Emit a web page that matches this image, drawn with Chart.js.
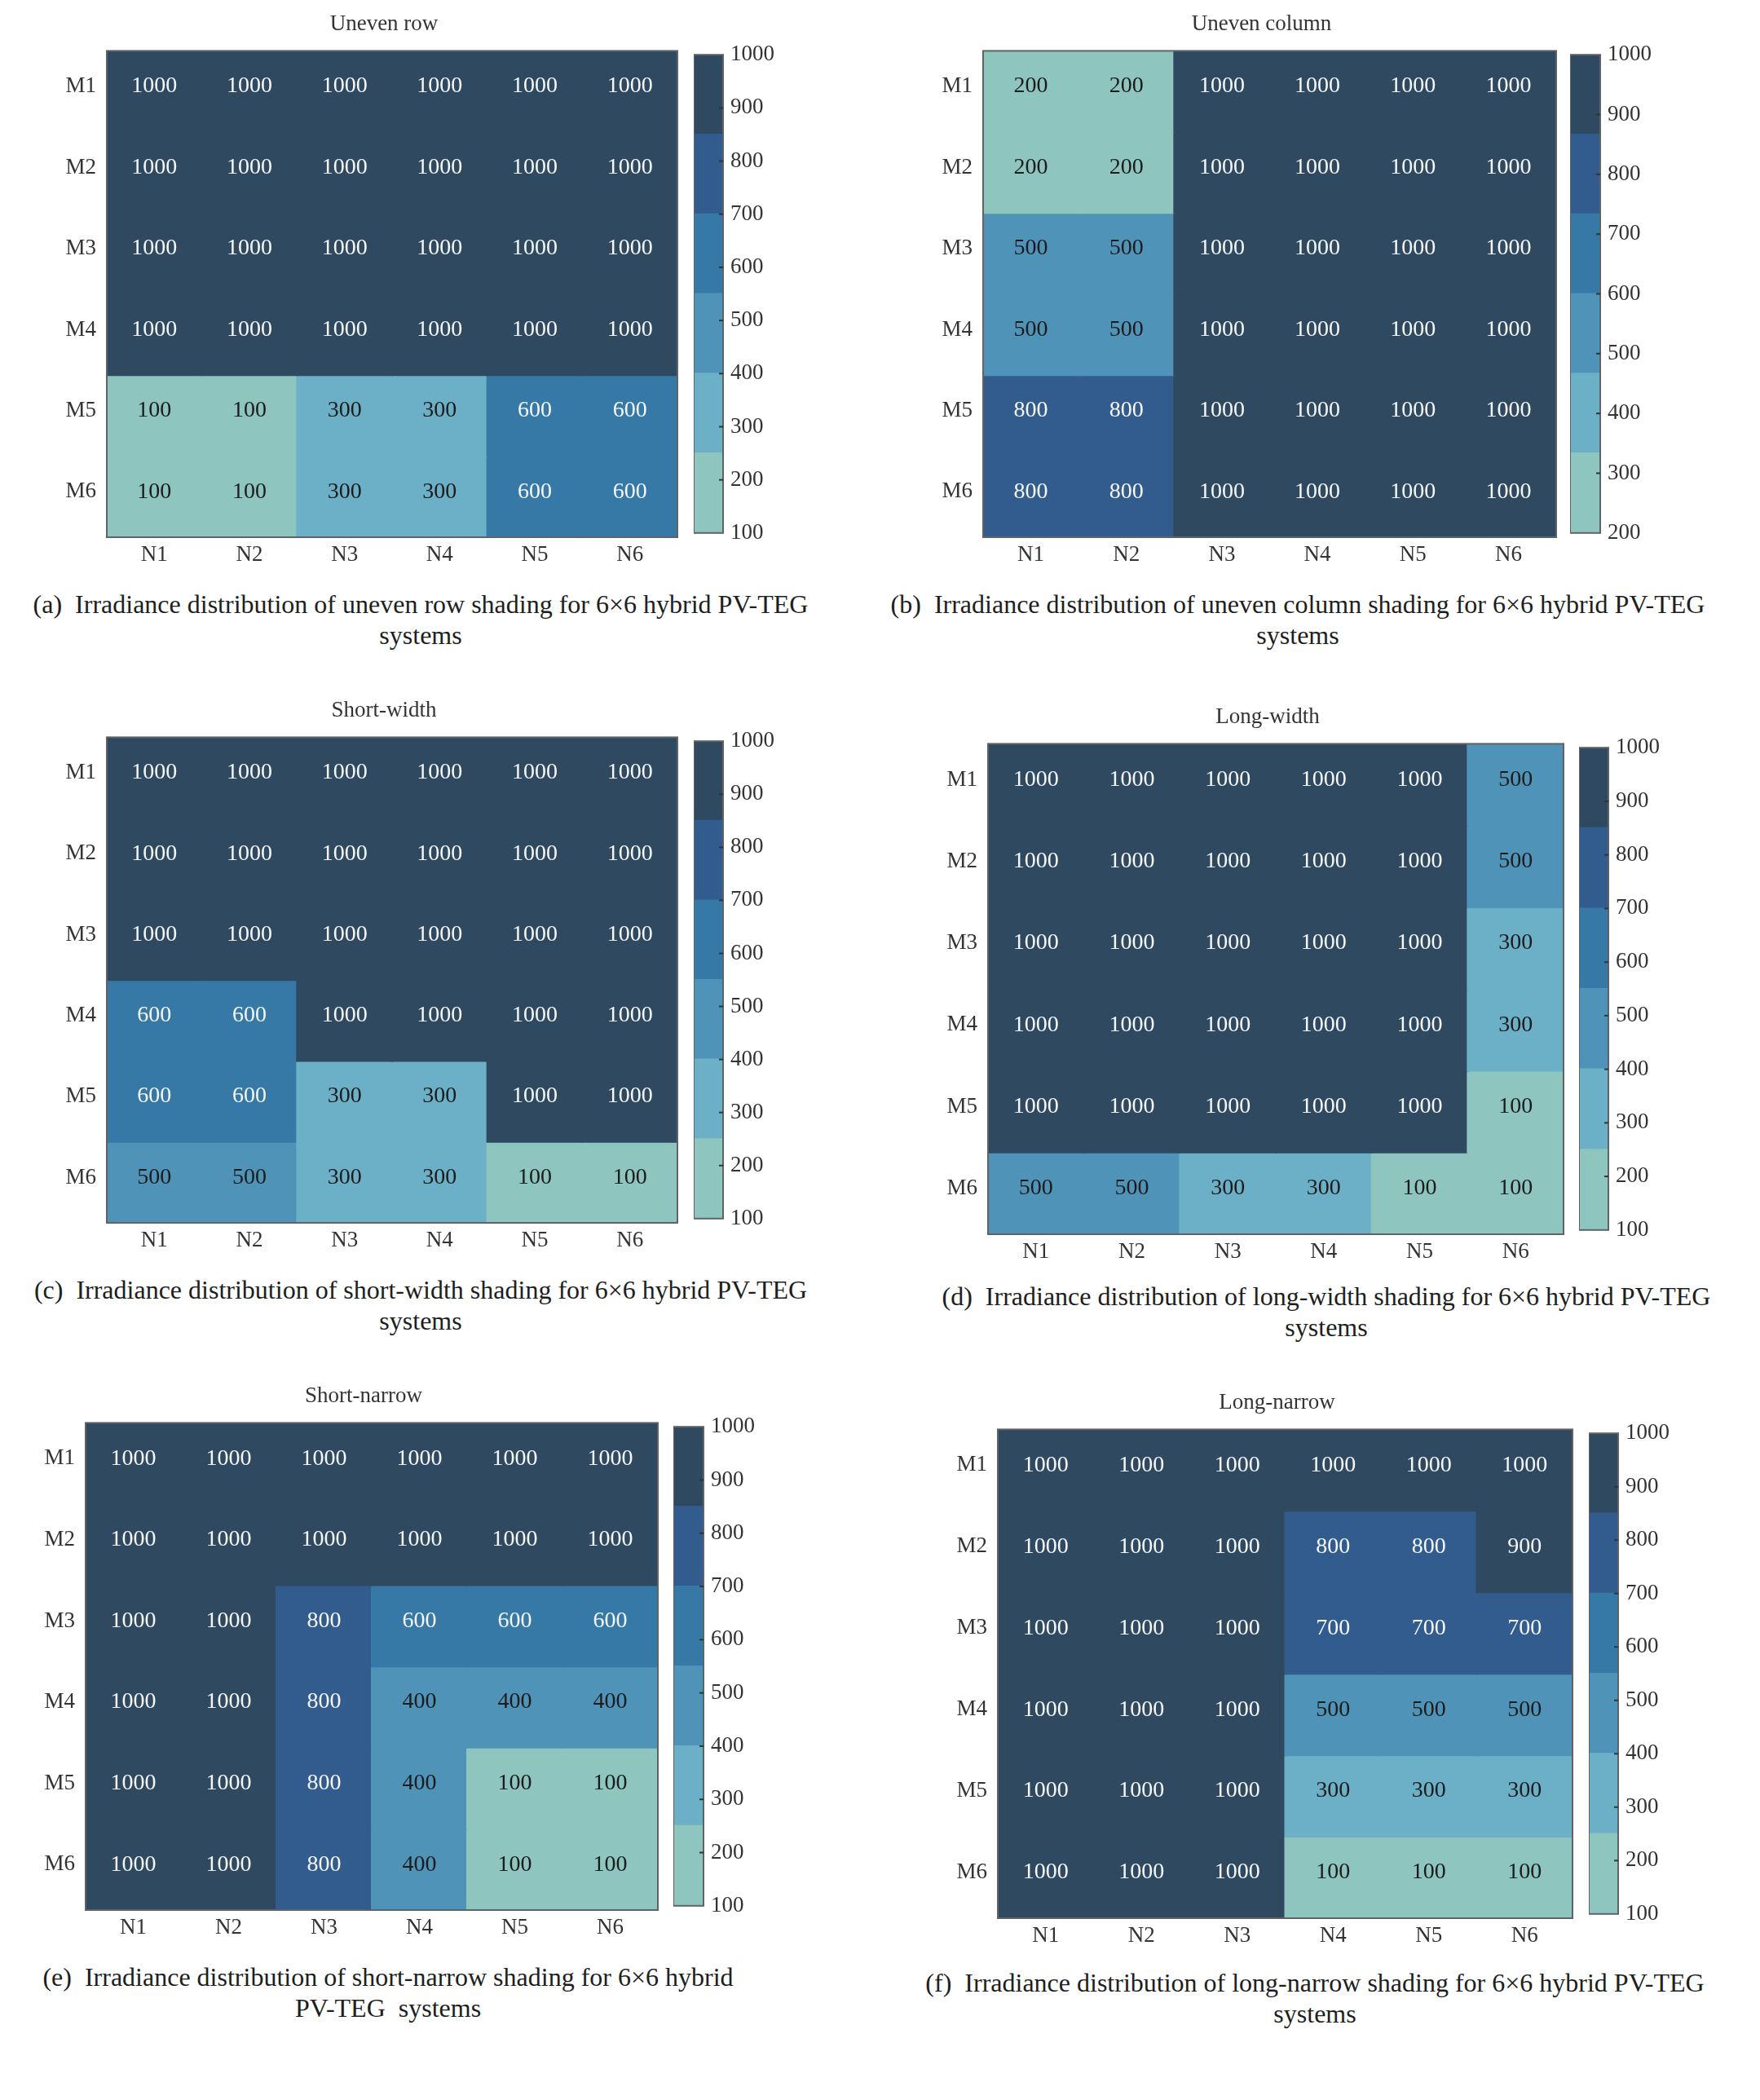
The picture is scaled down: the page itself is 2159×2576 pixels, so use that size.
<!DOCTYPE html>
<html lang="en">
<head>
  <meta charset="UTF-8">
  <title>Irradiance distribution for 6x6 hybrid PV-TEG systems</title>
  <script src="https://cdn.jsdelivr.net/npm/chart.js"></script>
  <style>
    body { margin: 0; background: #fff; width: 2159px; height: 2576px; position: relative; overflow: hidden;
           font-family: "Liberation Serif", "Times New Roman", serif; }
    .box { position: absolute; }
    .cap { position: absolute; width: 1200px; text-align: center; font-size: 32px; line-height: 38px; color: #1e1e1e; white-space: pre; }
  </style>
</head>
<body>
  <div id="page"></div>

  <script>
    // categories
    const cols = ['N1', 'N2', 'N3', 'N4', 'N5', 'N6'];
    const rows = ['M1', 'M2', 'M3', 'M4', 'M5', 'M6'];

    // irradiance (W/m2), one row per module line M1..M6
    const unevenRow = [
      [1000, 1000, 1000, 1000, 1000, 1000],
      [1000, 1000, 1000, 1000, 1000, 1000],
      [1000, 1000, 1000, 1000, 1000, 1000],
      [1000, 1000, 1000, 1000, 1000, 1000],
      [100, 100, 300, 300, 600, 600],
      [100, 100, 300, 300, 600, 600]
    ];
    const unevenColumn = [
      [200, 200, 1000, 1000, 1000, 1000],
      [200, 200, 1000, 1000, 1000, 1000],
      [500, 500, 1000, 1000, 1000, 1000],
      [500, 500, 1000, 1000, 1000, 1000],
      [800, 800, 1000, 1000, 1000, 1000],
      [800, 800, 1000, 1000, 1000, 1000]
    ];
    const shortWidth = [
      [1000, 1000, 1000, 1000, 1000, 1000],
      [1000, 1000, 1000, 1000, 1000, 1000],
      [1000, 1000, 1000, 1000, 1000, 1000],
      [600, 600, 1000, 1000, 1000, 1000],
      [600, 600, 300, 300, 1000, 1000],
      [500, 500, 300, 300, 100, 100]
    ];
    const longWidth = [
      [1000, 1000, 1000, 1000, 1000, 500],
      [1000, 1000, 1000, 1000, 1000, 500],
      [1000, 1000, 1000, 1000, 1000, 300],
      [1000, 1000, 1000, 1000, 1000, 300],
      [1000, 1000, 1000, 1000, 1000, 100],
      [500, 500, 300, 300, 100, 100]
    ];
    const shortNarrow = [
      [1000, 1000, 1000, 1000, 1000, 1000],
      [1000, 1000, 1000, 1000, 1000, 1000],
      [1000, 1000, 800, 600, 600, 600],
      [1000, 1000, 800, 400, 400, 400],
      [1000, 1000, 800, 400, 100, 100],
      [1000, 1000, 800, 400, 100, 100]
    ];
    const longNarrow = [
      [1000, 1000, 1000, 1000, 1000, 1000],
      [1000, 1000, 1000, 800, 800, 900],
      [1000, 1000, 1000, 700, 700, 700],
      [1000, 1000, 1000, 500, 500, 500],
      [1000, 1000, 1000, 300, 300, 300],
      [1000, 1000, 1000, 100, 100, 100]
    ];

    // colour bar ranges
    const range100 = [100, 1000];
    const range200 = [200, 1000];

    const titles = ['Uneven row', 'Uneven column', 'Short-width', 'Long-width', 'Short-narrow', 'Long-narrow'];
    const captions = [
      ['(a)  Irradiance distribution of uneven row shading for 6\u00d76 hybrid PV-TEG', 'systems'],
      ['(b)  Irradiance distribution of uneven column shading for 6\u00d76 hybrid PV-TEG', 'systems'],
      ['(c)  Irradiance distribution of short-width shading for 6\u00d76 hybrid PV-TEG', 'systems'],
      ['(d)  Irradiance distribution of long-width shading for 6\u00d76 hybrid PV-TEG', 'systems'],
      ['(e)  Irradiance distribution of short-narrow shading for 6\u00d76 hybrid', 'PV-TEG  systems'],
      ['(f)  Irradiance distribution of long-narrow shading for 6\u00d76 hybrid PV-TEG', 'systems']
    ];

    const bandColors = ['#8ec6bf', '#6cb0c8', '#4f93b8', '#3679a6', '#335c8e', '#2f4960'];

    // layout: plot box [x, y, w, h], colour bar box, caption centre [x, y of first line]
    const panels = [
      { grid: unevenRow,    range: range100, plot: [131, 62, 700, 597],   cb: [851, 62, 36, 597],   cap: [516, 741] },
      { grid: unevenColumn, range: range200, plot: [1206, 62, 703, 597],  cb: [1926, 62, 37, 597],  cap: [1592, 741] },
      { grid: shortWidth,   range: range100, plot: [131, 904, 700, 596],  cb: [851, 904, 36, 596],  cap: [516, 1582] },
      { grid: longWidth,    range: range100, plot: [1212, 912, 706, 602], cb: [1937, 912, 36, 602], cap: [1627, 1590] },
      { grid: shortNarrow,  range: range100, plot: [105, 1745, 702, 598], cb: [826, 1745, 37, 598], cap: [476, 2425] },
      { grid: longNarrow,   range: range100, plot: [1224, 1753, 705, 600], cb: [1949, 1753, 36, 600], cap: [1613, 2432] }
    ];

    Chart.defaults.font.family = '"Liberation Serif", "Times New Roman", serif';
    Chart.defaults.font.size = 27;
    Chart.defaults.color = '#333';
    Chart.defaults.animation = false;

    function band(v, range) {
      const k = Math.floor((v - range[0]) / (range[1] - range[0]) * 6 + 1e-9);
      return Math.max(0, Math.min(5, k));
    }

    const frame = {
      id: 'frame',
      afterDatasetsDraw(chart) {
        const a = chart.chartArea, ctx = chart.ctx;
        ctx.save();
        ctx.strokeStyle = '#5f6366';
        ctx.lineWidth = 2;
        ctx.strokeRect(a.left, a.top, a.width, a.height);
        ctx.restore();
      }
    };

    function makeCanvas(x, y, w, h) {
      const div = document.createElement('div');
      div.className = 'box';
      div.style.left = x + 'px';
      div.style.top = y + 'px';
      div.style.width = w + 'px';
      div.style.height = h + 'px';
      const c = document.createElement('canvas');
      div.appendChild(c);
      document.getElementById('page').appendChild(div);
      return c;
    }

    function heatmap(p, title) {
      const [px, py, pw, ph] = p.plot;
      const canvas = makeCanvas(px - 80, py - 48, pw + 140, ph + 98);

      // value text in each cell
      const cellText = {
        id: 'cellText',
        afterDatasetsDraw(chart) {
          const ctx = chart.ctx;
          ctx.save();
          ctx.font = '28px "Liberation Serif", serif';
          ctx.textAlign = 'center';
          ctx.textBaseline = 'middle';
          chart.data.datasets.forEach((ds, i) => {
            chart.getDatasetMeta(i).data.forEach((el, j) => {
              const v = p.grid[i][j];
              const c = el.getProps(['x', 'y', 'base'], true);
              ctx.fillStyle = band(v, p.range) >= 3 ? '#f4f6f8' : '#1c1c1c';
              ctx.fillText(String(v), c.x, (c.y + c.base) / 2 - 6);
            });
          });
          ctx.restore();
        }
      };

      new Chart(canvas, {
        type: 'bar',
        data: {
          labels: cols,
          datasets: rows.map((r, i) => ({
            label: r,
            data: cols.map(() => [i, i + 1]),
            backgroundColor: p.grid[i].map(v => bandColors[band(v, p.range)]),
            borderWidth: 0,
            inflateAmount: 1,
            grouped: false,
            barPercentage: 1,
            categoryPercentage: 1
          }))
        },
        options: {
          responsive: true,
          maintainAspectRatio: false,
          layout: { padding: 0 },
          plugins: {
            legend: { display: false },
            tooltip: { enabled: false },
            title: { display: true, text: title, color: '#333', font: { size: 27, weight: 'normal' },
                     padding: { top: 0, bottom: 16 } }
          },
          scales: {
            x: {
              grid: { display: false, drawTicks: false },
              border: { display: false },
              ticks: { padding: 6 },
              afterFit: s => { s.height = 50; }
            },
            y: {
              type: 'linear',
              min: 0,
              max: 6,
              reverse: true,
              grid: { display: false, drawTicks: false },
              border: { display: false },
              afterBuildTicks: s => { s.ticks = rows.map((r, i) => ({ value: i + 0.44 })); },
              ticks: { autoSkip: false, padding: 13, callback: v => rows[Math.floor(v)] },
              afterFit: s => { s.width = 80; }
            },
            yr: {
              type: 'linear',
              position: 'right',
              grid: { display: false, drawTicks: false },
              border: { display: false },
              ticks: { display: false },
              afterFit: s => { s.width = 60; }
            }
          }
        },
        plugins: [cellText, frame]
      });
    }

    function colorbar(p) {
      const [cx, cy, cw, ch] = p.cb;
      const canvas = makeCanvas(cx, cy - 20, cw + 100, ch + 40);
      const lo = p.range[0], hi = p.range[1];
      const edges = bandColors.map((c, k) => [lo + k * (hi - lo) / 6, lo + (k + 1) * (hi - lo) / 6]);

      const inTicks = {
        id: 'inTicks',
        afterDatasetsDraw(chart) {
          const ctx = chart.ctx, a = chart.chartArea, ys = chart.scales.y;
          ctx.save();
          ctx.strokeStyle = '#333';
          ctx.lineWidth = 2;
          ys.ticks.forEach(t => {
            if (t.value <= lo || t.value >= hi) return;
            const y = ys.getPixelForValue(t.value);
            ctx.beginPath();
            ctx.moveTo(a.right - 5, y);
            ctx.lineTo(a.right, y);
            ctx.stroke();
          });
          ctx.restore();
        }
      };

      new Chart(canvas, {
        type: 'bar',
        data: {
          labels: [''],
          datasets: edges.map((e, k) => ({
            data: [e],
            backgroundColor: bandColors[k],
            borderWidth: 0,
            inflateAmount: 1,
            grouped: false,
            barPercentage: 1,
            categoryPercentage: 1
          }))
        },
        options: {
          responsive: true,
          maintainAspectRatio: false,
          layout: { padding: { top: 20, bottom: 20, left: 0, right: 0 } },
          plugins: { legend: { display: false }, tooltip: { enabled: false } },
          scales: {
            x: { display: false },
            y: {
              position: 'right',
              min: lo,
              max: hi,
              grid: { display: false, drawTicks: false },
              border: { display: false },
              ticks: { stepSize: 100, padding: 9, color: '#333', callback: v => String(v) },
              afterFit: s => { s.width = 100; }
            }
          }
        },
        plugins: [frame, inTicks]
      });
    }

    panels.forEach((p, i) => {
      heatmap(p, titles[i]);
      colorbar(p);
      const cap = document.createElement('div');
      cap.className = 'cap';
      cap.style.left = (p.cap[0] - 600) + 'px';
      cap.style.top = (p.cap[1] - 19) + 'px';
      cap.textContent = captions[i].join('\n');
      document.getElementById('page').appendChild(cap);
    });
  </script>
</body>
</html>
